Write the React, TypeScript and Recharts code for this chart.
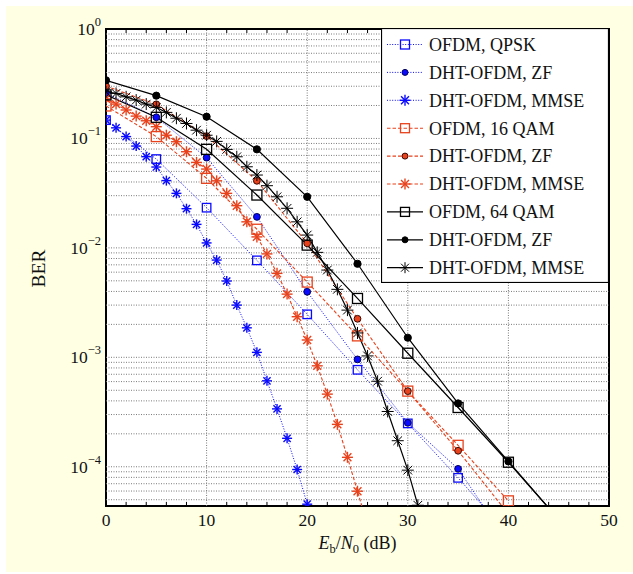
import React from "react";
import {
  LineChart,
  Line,
  XAxis,
  YAxis,
  CartesianGrid,
  Legend,
  ReferenceLine,
  ReferenceArea,
  Label,
} from "recharts";

// Eb/N0 grids (dB)
const snrStep5 = [0, 5, 10, 15, 20, 25, 30, 35, 40];
const snrStep5Long = [0, 5, 10, 15, 20, 25, 30, 35, 40, 45];
const snrQpskMmse = [0, 1, 2, 3, 4, 5, 6, 7, 8, 9, 10, 11, 12, 13, 14, 15, 16, 17, 18, 19, 20];
const snr16Mmse = [0, 1, 2, 3, 4, 5, 6, 7, 8, 9, 10, 11, 12, 13, 14, 15, 16, 17, 18, 19, 20, 21, 22, 23, 24, 25, 26];
const snr64Mmse = [0, 1, 2, 3, 4, 5, 6, 7, 8, 9, 10, 11, 12, 13, 14, 15, 16, 17, 18, 19, 20, 21, 22, 23, 24, 25, 26, 27, 28, 29, 30, 31];

// BER
const qpskOfdm = [0.147, 0.0648, 0.0233, 0.00769, 0.00247, 7.69e-4, 2.49e-4, 7.92e-5, 2.4e-5];
const qpskZf = [0.26, 0.156, 0.0667, 0.0192, 0.00397, 9.57e-4, 2.52e-4, 9.57e-5, 2.0e-5];
const qpskMmse = [
  0.147, 0.125, 0.104, 0.0852, 0.0681, 0.0548, 0.0412, 0.0315, 0.0228, 0.0164, 0.0111,
  0.00774, 0.00498, 0.003, 0.00186, 0.00111, 6.1e-4, 3.38e-4, 1.82e-4, 9.44e-5, 4.55e-5,
];
const qam16Ofdm = [0.198, 0.104, 0.0432, 0.0148, 0.00487, 0.00157, 4.91e-4, 1.57e-4, 4.88e-5];
const qam16Zf = [0.301, 0.205, 0.105, 0.041, 0.011, 0.00225, 4.91e-4, 1.4e-4, 3.7e-5];
const qam16Mmse = [
  0.23, 0.206, 0.182, 0.16, 0.145, 0.128, 0.107, 0.0933, 0.0756, 0.0604, 0.0525, 0.041,
  0.0315, 0.0243, 0.0173, 0.0126, 0.00881, 0.00585, 0.00378, 0.00235, 0.00144, 8.36e-4,
  4.61e-4, 2.44e-4, 1.22e-4, 5.98e-5, 2.9e-5,
];
const qam64Ofdm = [0.25, 0.156, 0.0795, 0.0304, 0.0106, 0.00345, 0.00109, 3.48e-4, 1.1e-4, 3.3e-5];
const qam64Zf = [0.34, 0.246, 0.158, 0.0795, 0.0293, 0.00716, 0.00151, 3.79e-4, 1.12e-4, 3.3e-5];
const qam64Mmse = [
  0.267, 0.258, 0.24, 0.224, 0.206, 0.192, 0.173, 0.153, 0.137, 0.119, 0.107, 0.094,
  0.0794, 0.068, 0.0551, 0.0463, 0.037, 0.0293, 0.023, 0.0173, 0.0131, 0.0091, 0.00627,
  0.00418, 0.0027, 0.00167, 0.00103, 6.05e-4, 3.2e-4, 1.73e-4, 9.31e-5, 4.45e-5,
];

const xTicks = [0, 10, 20, 30, 40, 50];
const yTicks = [1e-4, 1e-3, 1e-2, 1e-1, 1];
const yExponents = ["\u22124", "\u22123", "\u22122", "\u22121", "0"];

const Y_MIN = 4.38e-5;
const FONT = "'Liberation Serif', 'Times New Roman', serif";
const BLUE = "#0a0aff";
const RED = "#e8421c";
const BLACK = "#000000";
const GRID = "#7a7a7a";

type Mk = "square" | "dot" | "star";

const series = [
  { name: "OFDM, QPSK", snr: snrStep5, ber: qpskOfdm, color: BLUE, dash: "1 1.6", width: 1, mk: "square" as Mk, size: 8.5, edge: BLUE },
  { name: "DHT-OFDM, ZF", snr: snrStep5, ber: qpskZf, color: BLUE, dash: "1 1.6", width: 1, mk: "dot" as Mk, size: 3.4, edge: "#00005a" },
  { name: "DHT-OFDM, MMSE", snr: snrQpskMmse, ber: qpskMmse, color: BLUE, dash: "1 1.6", width: 1, mk: "star" as Mk, size: 5, edge: BLUE },
  { name: "OFDM, 16 QAM", snr: snrStep5, ber: qam16Ofdm, color: RED, dash: "3.5 2", width: 1.1, mk: "square" as Mk, size: 10, edge: RED },
  { name: "DHT-OFDM, ZF", snr: snrStep5, ber: qam16Zf, color: RED, dash: "3.5 2", width: 1.1, mk: "dot" as Mk, size: 3.4, edge: "#3a0800" },
  { name: "DHT-OFDM, MMSE", snr: snr16Mmse, ber: qam16Mmse, color: RED, dash: "3.5 2", width: 1.1, mk: "star" as Mk, size: 5.5, edge: RED },
  { name: "OFDM, 64 QAM", snr: snrStep5Long, ber: qam64Ofdm, color: BLACK, dash: undefined, width: 1.2, mk: "square" as Mk, size: 10, edge: BLACK },
  { name: "DHT-OFDM, ZF", snr: snrStep5Long, ber: qam64Zf, color: BLACK, dash: undefined, width: 1.2, mk: "dot" as Mk, size: 3.6, edge: BLACK },
  { name: "DHT-OFDM, MMSE", snr: snr64Mmse, ber: qam64Mmse, color: BLACK, dash: undefined, width: 1.2, mk: "star" as Mk, size: 6, edge: BLACK },
];

// horizontal grid at every 1..9 x 10^k inside the axis range
const gridY: number[] = [];
for (let k = -5; k <= 0; k++) {
  for (let m = 1; m <= 9; m++) {
    const v = m * Math.pow(10, k);
    if (v > Y_MIN && v < 1) gridY.push(v);
  }
}
const gridX = [10, 20, 30, 40];
const minorX = [2, 4, 6, 8, 12, 14, 16, 18, 22, 24, 26, 28, 32, 34, 36, 38, 42, 44, 46, 48];

function Marker({ kind, cx, cy, color, size, edge }: { kind: Mk; cx: number; cy: number; color: string; size: number; edge: string }) {
  if (cx == null || cy == null || isNaN(cx) || isNaN(cy)) return null;
  if (kind === "square") {
    return (
      <rect x={cx - size / 2} y={cy - size / 2} width={size} height={size}
        fill="none" stroke={color} strokeWidth={1.3} />
    );
  }
  if (kind === "dot") {
    return <circle cx={cx} cy={cy} r={size} fill={color} stroke={edge} strokeWidth={1} />;
  }
  const s = size;
  const d = s * 0.72;
  return (
    <g stroke={color} strokeWidth={color === BLACK ? 1 : 1.4}>
      <line x1={cx - s} y1={cy} x2={cx + s} y2={cy} />
      <line x1={cx} y1={cy - s} x2={cx} y2={cy + s} />
      <line x1={cx - d} y1={cy - d} x2={cx + d} y2={cy + d} />
      <line x1={cx - d} y1={cy + d} x2={cx + d} y2={cy - d} />
    </g>
  );
}

function YTick({ x, y, payload }: any) {
  const i = yTicks.indexOf(payload.value);
  return (
    <text x={x} y={y + 6} textAnchor="end" fontFamily={FONT} fontSize={17.5} fill="#111">
      <tspan>10</tspan>
      <tspan fontSize={12.5} dy={-9}>{yExponents[i]}</tspan>
    </text>
  );
}

function XTitle({ viewBox }: any) {
  const cx = viewBox.x + viewBox.width / 2;
  return (
    <text x={cx} y={viewBox.y + 43} textAnchor="middle" fontFamily={FONT} fontSize={18} fill="#111">
      <tspan fontStyle="italic">E</tspan>
      <tspan fontSize={12.5} dy={4}>b</tspan>
      <tspan dy={-4}>/</tspan>
      <tspan fontStyle="italic">N</tspan>
      <tspan fontSize={12.5} dy={4}>0</tspan>
      <tspan dy={-4}> (dB)</tspan>
    </text>
  );
}

function YTitle({ viewBox }: any) {
  const x = viewBox.x + 38.5;
  const y = viewBox.y + viewBox.height / 2 + 1;
  return (
    <text x={x} y={y} transform={`rotate(-90, ${x}, ${y})`} textAnchor="middle"
      dominantBaseline="central" fontFamily={FONT} fontSize={19.5} fill="#111">
      BER
    </text>
  );
}

function LegendBox() {
  const rowH = 27.9;
  return (
    <svg width={229} height={255} style={{ display: "block" }}>
      <rect x={0.5} y={0.5} width={227} height={254} fill="#fff" stroke="#000" strokeWidth={1.2} />
      {series.map((s, i) => {
        const cy = 16.5 + i * rowH;
        return (
          <g key={i}>
            <line x1={6} y1={cy} x2={42} y2={cy} stroke={s.color} strokeWidth={s.width}
              strokeDasharray={s.dash} />
            <Marker kind={s.mk} cx={24} cy={cy} color={s.color} size={s.mk === "dot" ? 3 : s.mk === "square" ? 9 : 5.5} edge={s.edge} />
            <text x={48} y={cy + 6.3} fontFamily={FONT} fontSize={18} fill="#111">{s.name}</text>
          </g>
        );
      })}
    </svg>
  );
}

export default function App() {
  return (
    <div style={{ position: "absolute", left: 0, top: 0, width: 633, height: 574, background: "#fff" }}>
      <div style={{ position: "absolute", left: 6, top: 6, width: 627, height: 566, background: "#ffffe4" }} />
      <div style={{ position: "absolute", left: 0, top: 0 }}>
        <LineChart width={633} height={574} margin={{ top: 29, right: 24, bottom: 0, left: 0 }}>
          <CartesianGrid fill="#ffffff" fillOpacity={1} horizontal={false} vertical={false} />
          <XAxis
            dataKey="x"
            type="number"
            domain={[0, 50]}
            ticks={xTicks}
            allowDataOverflow
            axisLine={false}
            tickLine={false}
            tickSize={6}
            tickMargin={2}
            height={68}
            tick={{ fontFamily: FONT, fontSize: 17.5, fill: "#111" }}
          >
            <Label content={<XTitle />} />
          </XAxis>
          <YAxis
            type="number"
            scale="log"
            domain={[Y_MIN, 1]}
            allowDataOverflow
            ticks={yTicks}
            axisLine={false}
            tickLine={false}
            tickSize={0}
            tickMargin={5}
            width={106}
            tick={<YTick />}
          >
            <Label content={<YTitle />} />
          </YAxis>
          {gridY.map((v) => (
            <ReferenceLine key={`gy${v}`} y={v} stroke={GRID} strokeWidth={1} strokeDasharray="1 1.5" />
          ))}
          {gridX.map((v) => (
            <ReferenceLine key={`gx${v}`} x={v} stroke={GRID} strokeWidth={1} strokeDasharray="1 1.5" />
          ))}
          {minorX.map((v) => (
            <ReferenceLine key={`b${v}`} segment={[{ x: v, y: Y_MIN }, { x: v, y: Y_MIN * 1.09 }]}
              stroke="#000" strokeWidth={1} />
          ))}
          {minorX.map((v) => (
            <ReferenceLine key={`t${v}`} segment={[{ x: v, y: 1 }, { x: v, y: 1 / 1.09 }]}
              stroke="#000" strokeWidth={1} />
          ))}
          {series.map((s, i) => (
            <Line
              key={i}
              data={s.snr.map((x, j) => ({ x, y: s.ber[j] }))}
              dataKey="y"
              name={s.name}
              stroke={s.color}
              strokeWidth={s.width}
              strokeDasharray={s.dash}
              isAnimationActive={false}
              activeDot={false}
              dot={(p: any) => (
                <Marker key={`m${i}-${p.index}`} kind={s.mk} cx={p.cx} cy={p.cy} color={s.color} size={s.size} edge={s.edge} />
              )}
            />
          ))}
          <ReferenceArea x1={0} x2={50} y1={Y_MIN} y2={1} fill="none" stroke="#000" strokeWidth={2} />
          <Legend
            layout="vertical"
            align="center"
            verticalAlign="middle"
            wrapperStyle={{ position: "absolute", left: 381, top: 28, width: 229, height: 255, margin: 0 }}
            content={() => <LegendBox />}
          />
        </LineChart>
      </div>
    </div>
  );
}
